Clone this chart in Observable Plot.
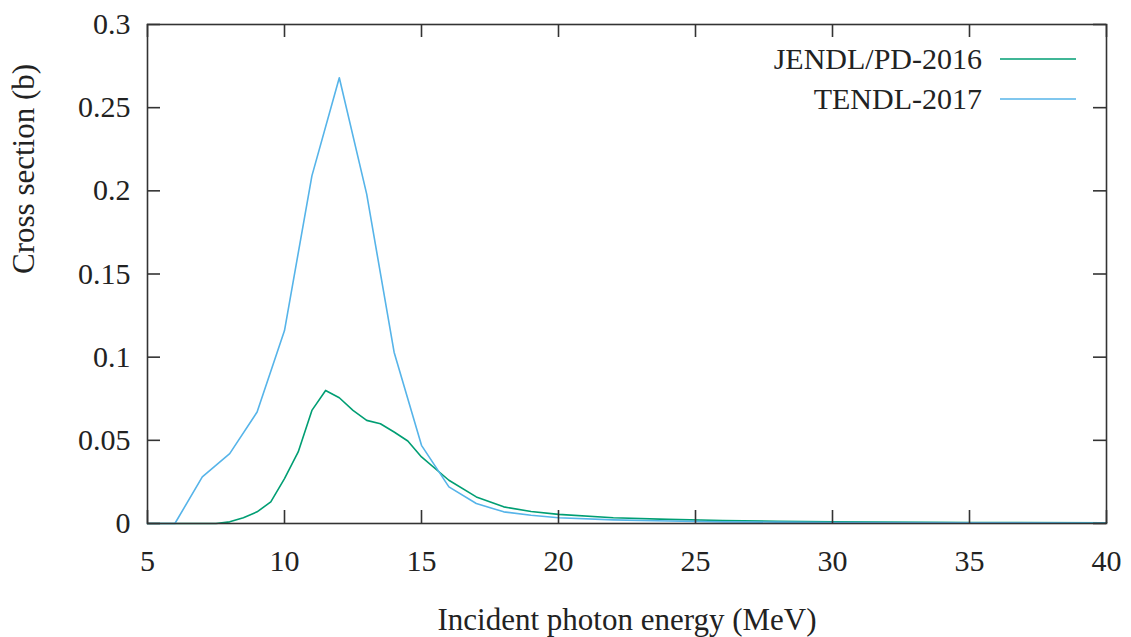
<!DOCTYPE html>
<html>
<head>
<meta charset="utf-8">
<script src="https://cdn.jsdelivr.net/npm/d3@7"></script>
<script src="https://cdn.jsdelivr.net/npm/@observablehq/plot@0.6"></script>
<style>
  html, body { margin: 0; padding: 0; background: #fff; }
  #wrap { position: relative; width: 1131px; height: 637px; font-family: "Liberation Serif", "Times New Roman", serif; }
  #legend { position: absolute; right: 55px; top: 39px; color: #222; font-size: 30px; }
  .row { display: flex; align-items: center; justify-content: flex-end; height: 40px; }
  .row svg { margin-left: 18px; }
</style>
</head>
<body>
<div id="wrap"><div id="chart"></div><div id="legend"></div></div>
<script>
// Series names and colours
const seriesNames = ["JENDL/PD-2016", "TENDL-2017"];
const seriesColors = ["#009e73", "#56b4e9"];

// JENDL/PD-2016
const jendlEnergy = [5, 7, 7.5, 8, 8.5, 9, 9.5, 10, 10.5, 11, 11.5, 12, 12.5, 13, 13.5, 14, 14.5, 15, 16, 17, 18, 19, 20, 22, 24, 26, 28, 30, 35, 40];
const jendlXs     = [0, 0, 0, 0.001, 0.0035, 0.007, 0.013, 0.027, 0.043, 0.068, 0.080, 0.0756, 0.068, 0.062, 0.060, 0.055, 0.0496, 0.040, 0.026, 0.016, 0.010, 0.0072, 0.0055, 0.0035, 0.0025, 0.0018, 0.0013, 0.001, 0.0006, 0.0004];

// TENDL-2017
const tendlEnergy = [5, 6, 7, 8, 9, 10, 11, 12, 13, 14, 15, 16, 17, 18, 19, 20, 22, 24, 26, 28, 30, 35, 40];
const tendlXs     = [0, 0, 0.028, 0.042, 0.067, 0.116, 0.209, 0.268, 0.198, 0.103, 0.047, 0.022, 0.012, 0.007, 0.005, 0.0035, 0.0022, 0.0015, 0.001, 0.0008, 0.0006, 0.0004, 0.0003];

// Axis ticks and labels
const xTicks = [5, 10, 15, 20, 25, 30, 35, 40];
const yTicks = [0, 0.05, 0.1, 0.15, 0.2, 0.25, 0.3];
const xLabel = "Incident photon energy (MeV)";
const yLabel = "Cross section (b)";

const data = [
  ...jendlEnergy.map((e, i) => ({series: seriesNames[0], e, v: jendlXs[i]})),
  ...tendlEnergy.map((e, i) => ({series: seriesNames[1], e, v: tendlXs[i]}))
];

const W = 1131, H = 637, mL = 147, mR = 25, mT = 24, mB = 114;
const plotH = H - mT - mB, plotW = W - mL - mR, tl = 13;
const ink = "#333";

const chart = Plot.plot({
  width: W, height: H,
  marginLeft: mL, marginRight: mR, marginTop: mT, marginBottom: mB,
  style: {fontFamily: '"Liberation Serif", "Times New Roman", serif', fontSize: "30px", color: "#222", background: "#fff"},
  x: {domain: [5, 40]},
  y: {domain: [0, 0.3]},
  color: {domain: seriesNames, range: seriesColors},
  marks: [
    Plot.line(data, {x: "e", y: "v", z: "series", stroke: "series", strokeWidth: 1.6}),
    Plot.frame({stroke: ink, strokeWidth: 1.6}),
    Plot.tickX(xTicks, {x: d => d, insetTop: plotH - tl, stroke: ink, strokeWidth: 1.6}),
    Plot.tickX(xTicks, {x: d => d, insetBottom: plotH - tl, stroke: ink, strokeWidth: 1.6}),
    Plot.tickY(yTicks, {y: d => d, insetRight: plotW - tl, stroke: ink, strokeWidth: 1.6}),
    Plot.tickY(yTicks, {y: d => d, insetLeft: plotW - tl, stroke: ink, strokeWidth: 1.6}),
    Plot.axisX(xTicks, {tickSize: 0, tickPadding: 26, tickFormat: d => String(d), fontSize: 30, label: null}),
    Plot.axisY(yTicks, {tickSize: 0, tickPadding: 17, tickFormat: d => String(d), fontSize: 30, label: null}),
    Plot.text([xLabel], {frameAnchor: "bottom", dy: 106, fontSize: 31, fill: "#222"}),
    Plot.text([yLabel], {frameAnchor: "left", dx: -123, rotate: -90, fontSize: 31, fill: "#222"})
  ]
});
document.getElementById("chart").appendChild(chart);

const legend = document.getElementById("legend");
seriesNames.forEach((name, i) => {
  const row = document.createElement("div");
  row.className = "row";
  row.innerHTML = `<span>${name}</span><svg width="76" height="4"><line x1="0" y1="2" x2="76" y2="2" stroke="${seriesColors[i]}" stroke-width="1.6"/></svg>`;
  legend.appendChild(row);
});
</script>
</body>
</html>
